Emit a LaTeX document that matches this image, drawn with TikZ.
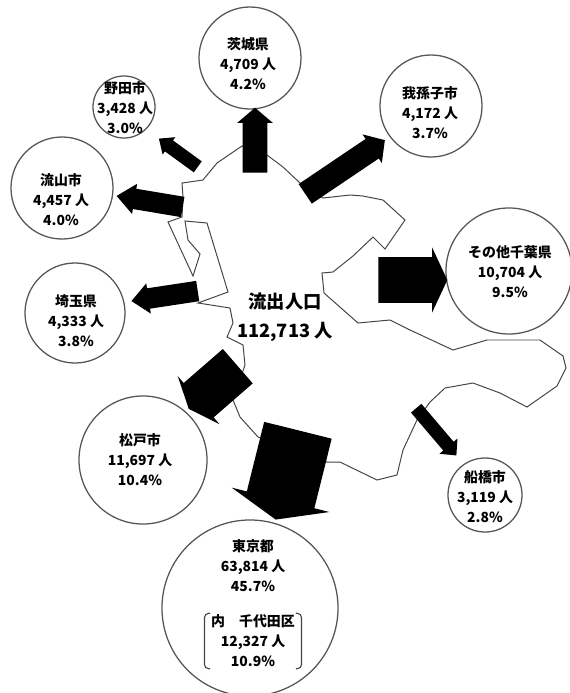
\documentclass[tikz,border=0pt]{standalone}
\usepackage{fontspec}
\setmainfont{Noto Sans CJK JP}
\usetikzlibrary{shapes.arrows}
\definecolor{g4}{HTML}{444444}
\definecolor{g5}{HTML}{555555}

\tikzset{
  city/.style={circle, draw=g5, line width=0.9pt, inner sep=0pt},
  txt/.style={align=center, inner sep=0pt, font=\bfseries\fontsize{9.9}{14.2}\selectfont},
  % rotate, length, half shaft, head extend, tip angle
  fat/.style n args={5}{single arrow, fill=black, inner xsep=0pt, inner ysep=#3,
    single arrow head extend=#4, single arrow tip angle=#5,
    single arrow head indent=0pt, minimum width=0pt, minimum height=#2,
    rotate=#1, anchor=tail},
}

\begin{document}
\begin{tikzpicture}[x=0.025cm, y=-0.025cm]
\useasboundingbox (0,0) rectangle (570,693);

% map outline
\draw[g4, line width=0.7pt] (242,146) -- (267,155) -- (283,167) -- (300,183)
  -- (323,198) -- (350,195) -- (363,196) -- (383,200) -- (405,220) -- (385,249)
  -- (373,237) -- (353,256) -- (333,272) -- (322,273) -- (324,293) -- (358,323)
  -- (390,320) -- (410,330) -- (453,350) -- (487,340) -- (540,340) -- (563,356)
  -- (566,368) -- (557,386) -- (527,407) -- (500,393) -- (473,383) -- (445,388)
  -- (430,402) -- (417,420) -- (403,450) -- (397,475) -- (377,480) -- (340,462)
  -- (327,462) -- (258,437) -- (240,417) -- (233,400) -- (245,365) -- (243,345)
  -- (227,337) -- (233,323) -- (230,308) -- (198,303) -- (228,292) -- (207,223)
  -- (185,221) -- (188,240) -- (200,254) -- (193,276) -- (168,222) -- (182,217)
  -- (183,197) -- (182,183) -- (203,180) -- (217,163) -- cycle;

% circles
\node[city, minimum size=2.55cm] (ibaraki) at (250,58) {};
\node[city, minimum size=1.55cm] (noda) at (124,107) {};
\node[city, minimum size=2.55cm] (abiko) at (431,106) {};
\node[city, minimum size=2.55cm] (nagareyama) at (62,188) {};
\node[city, minimum size=2.5cm] (saitama) at (75,313) {};
\node[city, minimum size=3.15cm] (chiba) at (509,271) {};
\node[city, minimum size=3.2cm] (matsudo) at (143,460) {};
\node[city, minimum size=1.85cm] (funabashi) at (485,495) {};
\node[city, minimum size=4.4cm] (tokyo) at (250,608) {};

% labels
\node[txt] (ibaraki-t) at (248,64) {茨城県\\4,709 人\\4.2\%};
\node[txt] (noda-t) at (125,108) {野田市\\3,428 人\\3.0\%};
\node[txt] (abiko-t) at (430,113) {我孫子市\\4,172 人\\3.7\%};
\node[txt] (nagareyama-t) at (61,200) {流山市\\4,457 人\\4.0\%};
\node[txt] (saitama-t) at (76,321) {埼玉県\\4,333 人\\3.8\%};
\node[txt] (chiba-t) at (510,272) {その他千葉県\\10,704 人\\9.5\%};
\node[txt] (matsudo-t) at (140,460) {松戸市\\11,697 人\\10.4\%};
\node[txt] (funabashi-t) at (485,497) {船橋市\\3,119 人\\2.8\%};
\node[txt] (tokyo-t) at (253,566) {東京都\\63,814 人\\45.7\%};
\node[txt, inner xsep=4.6pt, inner ysep=1pt] (uchi) at (253,641) {内　千代田区\\12,327 人\\10.9\%};
\draw[g4, line width=0.8pt, rounded corners=3pt] ([xshift=4pt]uchi.north west) -- (uchi.north west) -- (uchi.south west) -- ([xshift=4pt]uchi.south west);
\draw[g4, line width=0.8pt, rounded corners=3pt] ([xshift=-4pt]uchi.north east) -- (uchi.north east) -- (uchi.south east) -- ([xshift=-4pt]uchi.south east);

\node[txt, font=\bfseries\fontsize{13}{20.6}\selectfont] (total) at (285,317) {流出人口\\112,713 人};

% arrows
\node[fat={90}{1.625cm}{0.3cm}{0.1375cm}{99}] (a-ibaraki) at (255,173) {};
\node[fat={144}{1.2cm}{0.1625cm}{0.1cm}{82}] (a-noda) at (198,167) {};
\node[fat={170.5}{1.675cm}{0.25cm}{0.125cm}{80}] (a-nagareyama) at (183,207) {};
\node[fat={188.6}{1.675cm}{0.25cm}{0.125cm}{83}] (a-saitama) at (198,291) {};
\node[fat={34}{2.4cm}{0.2875cm}{0.1375cm}{97}] (a-abiko) at (305,194) {};
\node[fat={0}{1.725cm}{0.5625cm}{0.2375cm}{130}] (a-chiba) at (378,280) {};
\node[fat={221}{1.625cm}{0.5625cm}{0.225cm}{135}] (a-matsudo) at (238,366) {};
\node[fat={256}{2.3cm}{0.8625cm}{0.3875cm}{136}] (a-tokyo) at (298,430) {};
\node[fat={-49.6}{1.55cm}{0.1625cm}{0.125cm}{88}] (a-funabashi) at (416,408) {};
\end{tikzpicture}
\end{document}
